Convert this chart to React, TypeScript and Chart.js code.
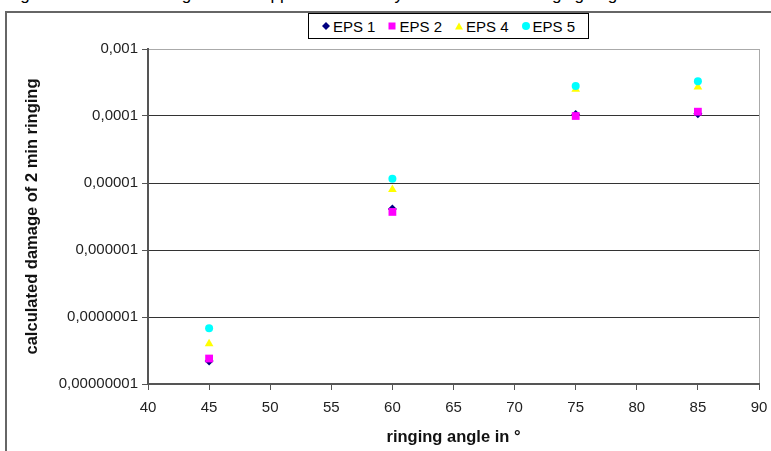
import React, { useEffect, useRef } from "react";
import { Chart, registerables } from "chart.js";

Chart.register(...registerables);

// ---- data ----
const titleText = "Fig. 4: calculated damage of the support structure by the different bell ringing angles";
const angles = [45, 60, 75, 85];
const eps1 = [2.2e-8, 4.1e-6, 1.05e-4, 1.08e-4];
const eps2 = [2.4e-8, 3.7e-6, 1.0e-4, 1.16e-4];
const eps4 = [4.0e-8, 8.0e-6, 2.5e-4, 2.7e-4];
const eps5 = [6.8e-8, 1.16e-5, 2.8e-4, 3.3e-4];
const seriesNames = ["EPS 1", "EPS 2", "EPS 4", "EPS 5"];
const seriesColors = ["#000080", "#FF00FF", "#FFFF00", "#00FFFF"];
const seriesStyles = ["rectRot", "rect", "triangle", "circle"];
const seriesRadius = [4.5, 5.5, 5, 4];
const yTickValues = [1e-8, 1e-7, 1e-6, 1e-5, 1e-4, 1e-3];
const yTickLabels = ["0,00000001", "0,0000001", "0,000001", "0,00001", "0,0001", "0,001"];
const xTickLabels = ["40", "45", "50", "55", "60", "65", "70", "75", "80", "85", "90"];
const xAxisTitle = "ringing angle in °";
const yAxisTitle = "calculated damage of 2 min ringing";

const FONT = '"Liberation Sans", Arial, sans-serif';

function sameLog(a: number, b: number) {
  return Math.abs(Math.log10(a) - Math.log10(b)) < 1e-6;
}

function Marker({ idx }: { idx: number }) {
  const c = seriesColors[idx];
  let shape: any;
  if (idx === 0) shape = <polygon points="4,0 8,4 4,8 0,4" fill={c} />;
  else if (idx === 1) shape = <rect x="0.5" y="0.5" width="7" height="7" fill={c} />;
  else if (idx === 2) shape = <polygon points="4,0.5 8,7.5 0,7.5" fill={c} />;
  else shape = <circle cx="4" cy="4" r="4" fill={c} />;
  return (
    <svg width="8" height="8" style={{ display: "block", marginRight: 3 }}>
      {shape}
    </svg>
  );
}

export default function App() {
  const ref = useRef<HTMLCanvasElement>(null);

  useEffect(() => {
    if (!ref.current) return;
    const seriesData = [eps1, eps2, eps4, eps5];
    const chart = new Chart(ref.current, {
      type: "scatter",
      data: {
        datasets: seriesData.map((vals, i) => ({
          label: seriesNames[i],
          data: angles.map((a, j) => ({ x: a, y: vals[j] })),
          backgroundColor: seriesColors[i],
          borderColor: seriesColors[i],
          borderWidth: 0,
          pointStyle: seriesStyles[i] as any,
          pointRadius: seriesRadius[i],
          pointHoverRadius: seriesRadius[i],
          showLine: false,
          order: 4 - i,
        })),
      },
      options: {
        responsive: false,
        animation: false,
        devicePixelRatio: 1,
        layout: { padding: { top: 49, right: 12, left: 0, bottom: 0 } },
        plugins: {
          legend: { display: false },
          title: { display: false },
          tooltip: { enabled: false },
        },
        scales: {
          x: {
            type: "linear",
            min: 40,
            max: 90,
            afterFit: (s: any) => {
              s.height = 67;
            },
            ticks: {
              stepSize: 5,
              autoSkip: false,
              maxRotation: 0,
              padding: 3,
              color: "#222",
              font: { family: FONT, size: 15, lineHeight: 2 },
              callback: (v: any) => {
                const i = Math.round((Number(v) - 40) / 5);
                return xTickLabels[i] ?? "";
              },
            },
            grid: {
              color: (ctx: any) =>
                ctx.tick && ctx.tick.value === 90 ? "#aaaaaa" : "rgba(0,0,0,0)",
              tickColor: "#555",
              tickLength: 6,
              lineWidth: 1,
            },
            border: { color: "#555", width: 2 },
            title: {
              display: true,
              text: xAxisTitle,
              color: "#111",
              font: { family: FONT, size: 16.5, weight: "bold" },
              padding: { top: 0, bottom: 4 },
            },
          },
          y: {
            type: "logarithmic",
            min: 1e-8,
            max: 1e-3,
            afterBuildTicks: (s: any) => {
              s.ticks = yTickValues.map((v) => ({ value: v }));
            },
            afterFit: (s: any) => {
              s.width = 148;
            },
            ticks: {
              autoSkip: false,
              padding: 4,
              color: "#222",
              font: { family: FONT, size: 15 },
              callback: (v: any) => {
                const i = yTickValues.findIndex((t) => sameLog(t, Number(v)));
                return i >= 0 ? yTickLabels[i] : "";
              },
            },
            grid: {
              color: (ctx: any) =>
                ctx.tick && sameLog(ctx.tick.value, 1e-3) ? "#aaaaaa" : "#333333",
              tickColor: "#555",
              tickLength: 6,
              lineWidth: 1,
            },
            border: { color: "#555", width: 2 },
            title: {
              display: true,
              text: yAxisTitle,
              color: "#111",
              font: { family: FONT, size: 16.5, weight: "bold" },
              padding: { top: 23, bottom: 0 },
            },
          },
        },
      },
    });
    return () => chart.destroy();
  }, []);

  return (
    <div
      style={{
        position: "fixed",
        left: 0,
        top: 0,
        width: 771,
        height: 451,
        overflow: "hidden",
        background: "#fff",
      }}
    >
      <div
        style={{
          position: "absolute",
          left: 6,
          top: -14,
          whiteSpace: "nowrap",
          fontFamily: FONT,
          fontSize: 17,
          lineHeight: "17px",
          color: "#000",
        }}
      >
        {titleText}
      </div>
      <div
        style={{
          position: "absolute",
          left: 5,
          top: 11,
          width: 820,
          height: 520,
          border: "2px solid #666",
          boxSizing: "border-box",
        }}
      />
      <canvas
        ref={ref}
        width={771}
        height={451}
        style={{ position: "absolute", left: 0, top: 0, width: 771, height: 451 }}
      />
      <div
        style={{
          position: "absolute",
          left: 308,
          top: 13,
          width: 281,
          height: 26,
          border: "1px solid #000",
          boxSizing: "border-box",
          background: "#fff",
          display: "flex",
          alignItems: "center",
          justifyContent: "center",
          fontFamily: FONT,
          fontSize: 15,
          color: "#000",
        }}
      >
        {seriesNames.map((n, i) => (
          <div
            key={n}
            style={{ display: "flex", alignItems: "center", marginLeft: i ? 13 : 0 }}
          >
            <Marker idx={i} />
            <span>{n}</span>
          </div>
        ))}
      </div>
    </div>
  );
}
